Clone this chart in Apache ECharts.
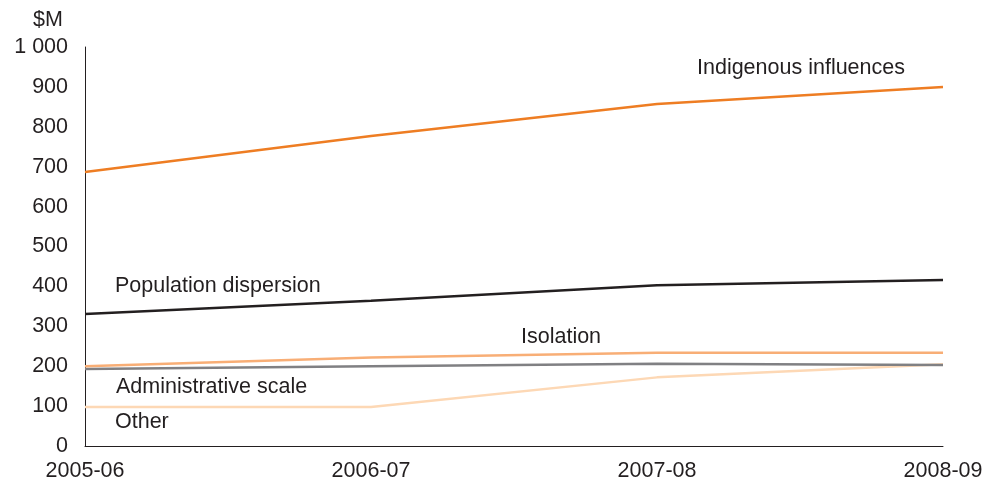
<!DOCTYPE html>
<html>
<head>
<meta charset="utf-8">
<script src="https://cdn.jsdelivr.net/npm/echarts@6/dist/echarts.min.js"></script>
<style>
  html, body { margin: 0; padding: 0; background: #fff; }
  #chart { width: 992px; height: 486px; }
</style>
</head>
<body>
<div id="chart"></div>
<script>
var years = ['2005-06', '2006-07', '2007-08', '2008-09'];
var indigenous = [687, 777, 857, 900];
var population = [331, 364, 403, 416];
var isolation = [200, 222, 234, 234];
var adminScale = [193, 200, 206, 203];
var other = [98, 98, 172, 205];

var textColor = '#231f20';
var font = 'Liberation Sans, Arial, sans-serif';

var dom = document.getElementById('chart');
var myChart = echarts.init(dom);

function line(name, data, color) {
    return {
        name: name,
        type: 'line',
        data: data,
        symbol: 'none',
        lineStyle: { color: color, width: 2.5 },
        animation: false
    };
}

function label(text, x, y) {
    return {
        type: 'text',
        x: x,
        y: y,
        style: {
            text: text,
            fill: textColor,
            font: '21.5px ' + font,
            verticalAlign: 'middle'
        }
    };
}

var option = {
    backgroundColor: '#fff',
    grid: { left: 85, right: 49, top: 47, bottom: 40 },
    xAxis: {
        type: 'category',
        data: years,
        boundaryGap: false,
        axisLine: { lineStyle: { color: textColor, width: 1 } },
        axisTick: { show: false },
        axisLabel: { color: textColor, fontSize: 21.5, fontFamily: font, margin: 14 }
    },
    yAxis: {
        type: 'value',
        min: 0,
        max: 1000,
        interval: 100,
        splitLine: { show: false },
        axisLine: { show: true, lineStyle: { color: textColor, width: 1 } },
        axisTick: { show: false },
        axisLabel: {
            color: textColor, fontSize: 21.5, fontFamily: font, margin: 17,
            formatter: function (v) { return v >= 1000 ? '1 000' : String(v); }
        }
    },
    graphic: [
        label('$M', 33, 20),
        label('Indigenous influences', 697, 68),
        label('Population dispersion', 115, 286),
        label('Isolation', 521, 337),
        label('Administrative scale', 116, 387),
        label('Other', 115, 422)
    ],
    series: [
        line('Other', other, '#fdd8b5'),
        line('Administrative scale', adminScale, '#808083'),
        line('Isolation', isolation, '#f8ae76'),
        line('Population dispersion', population, '#231f20'),
        line('Indigenous influences', indigenous, '#ee7d23')
    ]
};

if (option && typeof option === "object") {
    myChart.setOption(option, true);
}
</script>
</body>
</html>
